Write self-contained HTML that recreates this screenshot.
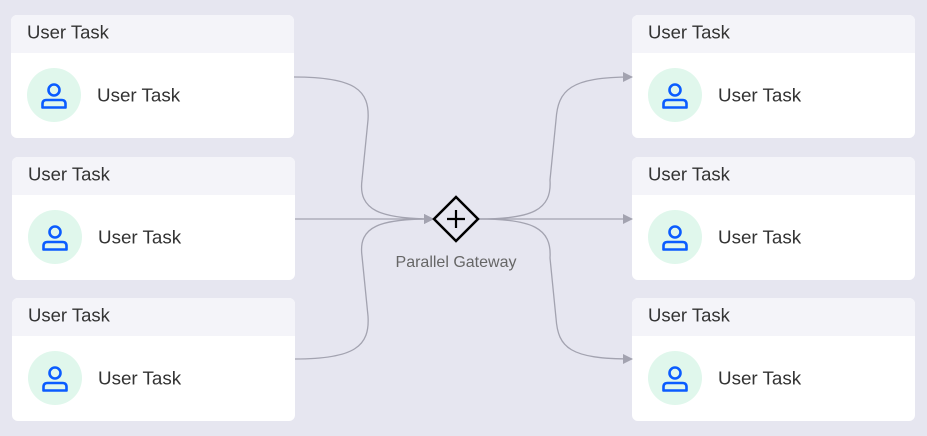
<!DOCTYPE html>
<html><head><meta charset="utf-8"><style>
html,body{margin:0;padding:0;background:#e6e6f0;}
svg{display:block;font-family:"Liberation Sans",Arial,sans-serif;}
</style></head><body>
<svg width="927" height="436" viewBox="0 0 927 436" xmlns="http://www.w3.org/2000/svg">
<defs>
<g id="card">
  <rect x="0" y="0" width="283" height="123" rx="6" fill="#ffffff"/>
  <path d="M6,0 H277 A6,6 0 0 1 283,6 V38 H0 V6 A6,6 0 0 1 6,0 Z" fill="#f4f4f9"/>
  <text x="16" y="23.5" font-size="18.5" fill="#333">User Task</text>
  <circle cx="43" cy="80" r="27" fill="#e0f7ec"/>
  <circle cx="43" cy="75" r="5.5" fill="none" stroke="#0a5cff" stroke-width="2.6"/>
  <path d="M31.5,92.5 V89 Q31.5,85 35.5,85 H50.5 Q54.5,85 54.5,89 V92.5 Z" fill="none" stroke="#0a5cff" stroke-width="2.6" stroke-linejoin="round"/>
  <text x="86" y="86.5" font-size="18.8" fill="#333">User Task</text>
</g>
<marker id="ar" markerWidth="10" markerHeight="10" refX="9" refY="5" orient="auto" markerUnits="userSpaceOnUse">
  <path d="M0,0 L10,5 L0,10 Z" fill="#a3a3b0"/>
</marker>
</defs>
<use href="#card" x="11" y="15"/>
<use href="#card" x="12" y="157"/>
<use href="#card" x="12" y="298"/>
<use href="#card" x="632" y="15"/>
<use href="#card" x="632" y="157"/>
<use href="#card" x="632" y="298"/>
<g fill="none" stroke="#a3a3b0" stroke-width="1.3">
  <path d="M294,77 C355,77 370,90 368,120 L362,180 C358,210 380,219 433,219" marker-end="url(#ar)"/>
  <path d="M295,219 H433" marker-end="url(#ar)"/>
  <path d="M295,359 C355,359 370,346 368,316 L362,256 C358,226 380,219 433,219" marker-end="url(#ar)"/>
  <path d="M479,219 C532,219 552,210 550,180 L556,120 C558,90 570,77 632,77" marker-end="url(#ar)"/>
  <path d="M479,219 H632" marker-end="url(#ar)"/>
  <path d="M479,219 C532,219 552,228 550,258 L556,318 C558,348 570,359 632,359" marker-end="url(#ar)"/>
</g>
<path d="M456,197 L478,219 L456,241 L434,219 Z" fill="#e6e6f0" stroke="#000" stroke-width="2.5" stroke-linejoin="miter"/>
<path d="M456,210 V228 M447,219 H465" stroke="#000" stroke-width="2.2"/>
<text x="456" y="267" font-size="16" fill="#666" text-anchor="middle">Parallel Gateway</text>
</svg>
</body></html>
